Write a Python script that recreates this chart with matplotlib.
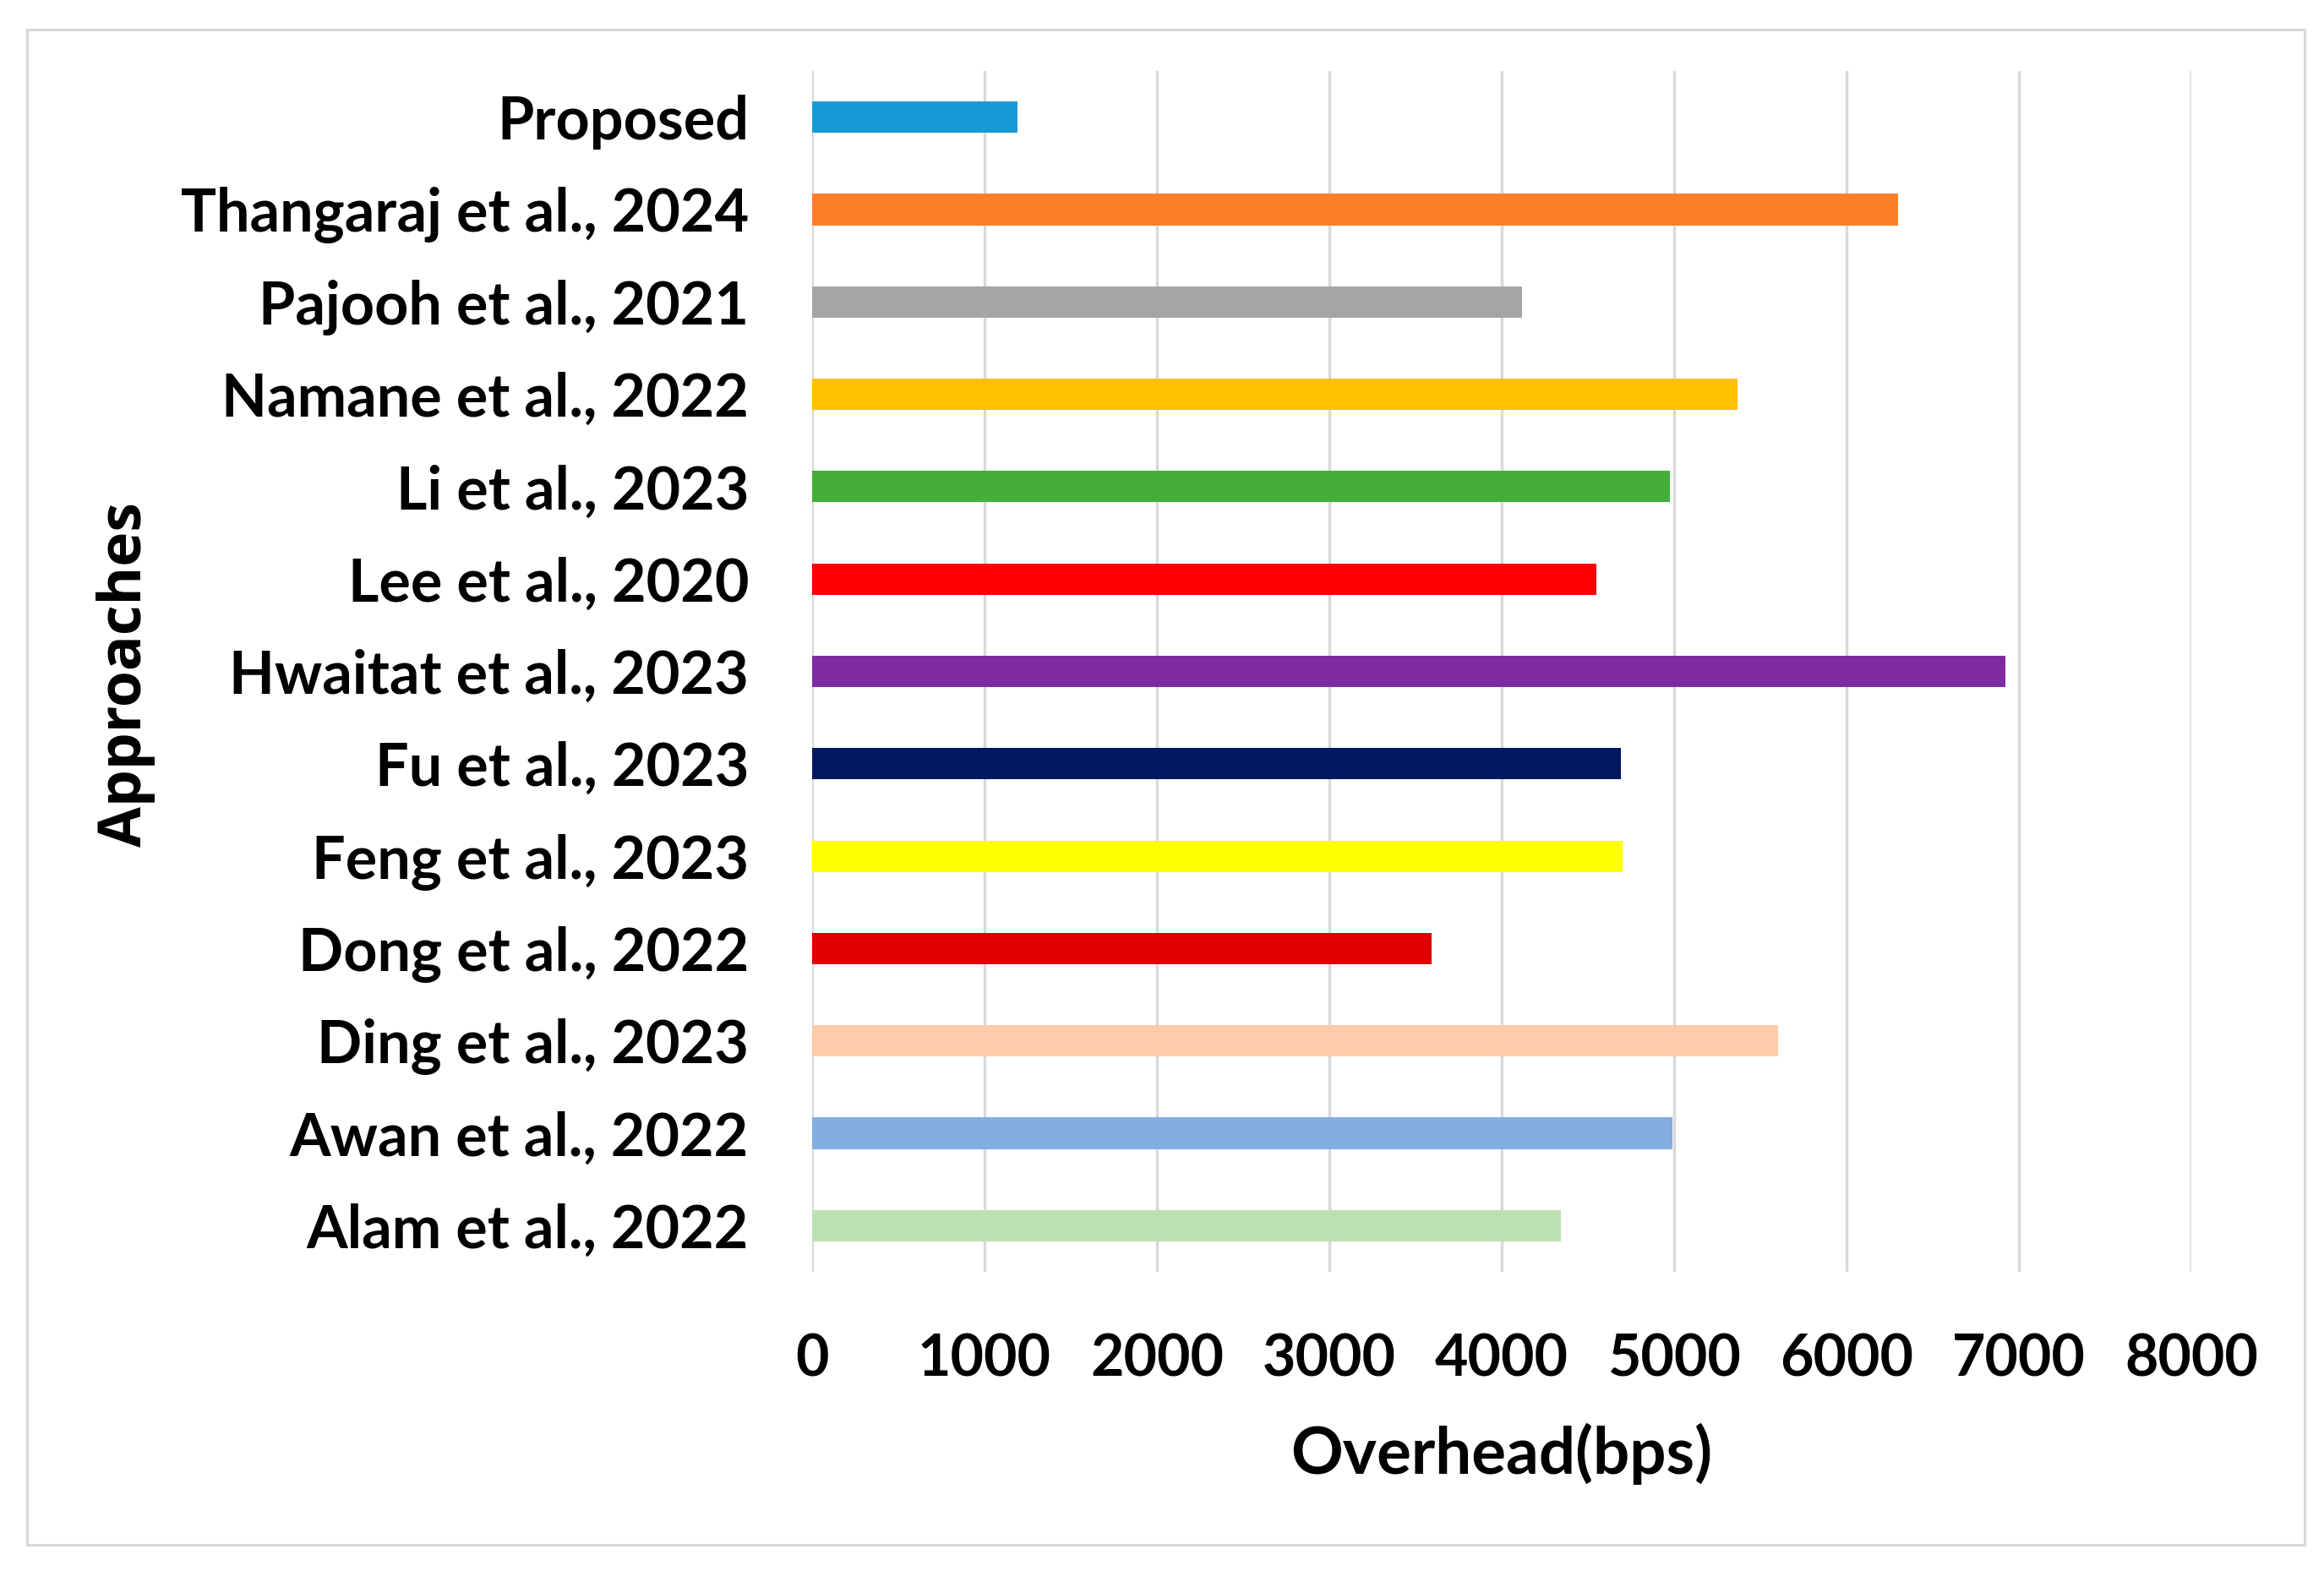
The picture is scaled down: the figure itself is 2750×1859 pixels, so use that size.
import matplotlib
matplotlib.use("Agg")
import matplotlib.pyplot as plt
from matplotlib.patches import Rectangle

categories = ["Alam et al., 2022", "Awan et al., 2022", "Ding et al., 2023",
              "Dong et al., 2022", "Feng et al., 2023", "Fu et al., 2023",
              "Hwaitat et al., 2023", "Lee et al., 2020", "Li et al., 2023",
              "Namane et al., 2022", "Pajooh et al., 2021",
              "Thangaraj et al., 2024", "Proposed"]
overhead = [4345, 4990, 5605, 3595, 4700, 4690, 6920, 4550, 4975, 5370, 4120, 6300, 1190]
colors = ["#BBE1B3", "#84ADE0", "#FFCBA8", "#E00000", "#FFFF00", "#00195E",
          "#7E2BA0", "#FF0000", "#44AD3B", "#FFC000", "#A5A5A5", "#FD7F2A", "#179BD7"]
xticks = [0, 1000, 2000, 3000, 4000, 5000, 6000, 7000, 8000]

W, H = 2750, 1859
fig = plt.figure(figsize=(W / 100, H / 100), dpi=100)
fig.patches.append(Rectangle((32 / W, 1 - 1828 / H), (2727 - 32) / W, (1828 - 35) / H,
                             transform=fig.transFigure, fill=False,
                             edgecolor="#D9D9D9", linewidth=2.2))

ax = fig.add_axes([961 / W, 1 - 1505 / H, (2593 - 961) / W, (1505 - 84) / H])
ypos = list(range(len(categories)))
ax.barh(ypos, overhead, height=0.34, color=colors, zorder=3)
ax.set_xlim(0, 8000)
ax.set_ylim(-0.5, len(categories) - 0.5)
ax.set_xticks(xticks)
ax.set_xticklabels([str(t) for t in xticks])
ax.set_yticks(ypos)
ax.set_yticklabels(categories)
ax.grid(axis="x", color="#D9D9D9", linewidth=2.5, zorder=0)
ax.grid(axis="y", visible=False)
for s in ax.spines.values():
    s.set_visible(False)
ax.tick_params(axis="both", length=0)
ax.tick_params(axis="y", pad=54)
ax.tick_params(axis="x", pad=52)
for lab in ax.get_yticklabels():
    lab.set_fontfamily("Lato")
    lab.set_fontweight("bold")
    lab.set_fontsize(50.5)
for lab in ax.get_xticklabels():
    lab.set_fontfamily("Lato")
    lab.set_fontweight("bold")
    lab.set_fontsize(49)

fig.text((961 + 2593) / 2 / W, 1 - 1720 / H, "Overhead(bps)", ha="center", va="center",
         fontfamily="Lato", fontweight="bold", fontsize=55)
fig.text(149 / W, 1 - 798 / H, "Approaches", ha="center", va="center", rotation=90,
         fontfamily="Open Sans", fontweight="bold", fontsize=50)

fig.savefig("out.png", dpi=100, facecolor="white")
